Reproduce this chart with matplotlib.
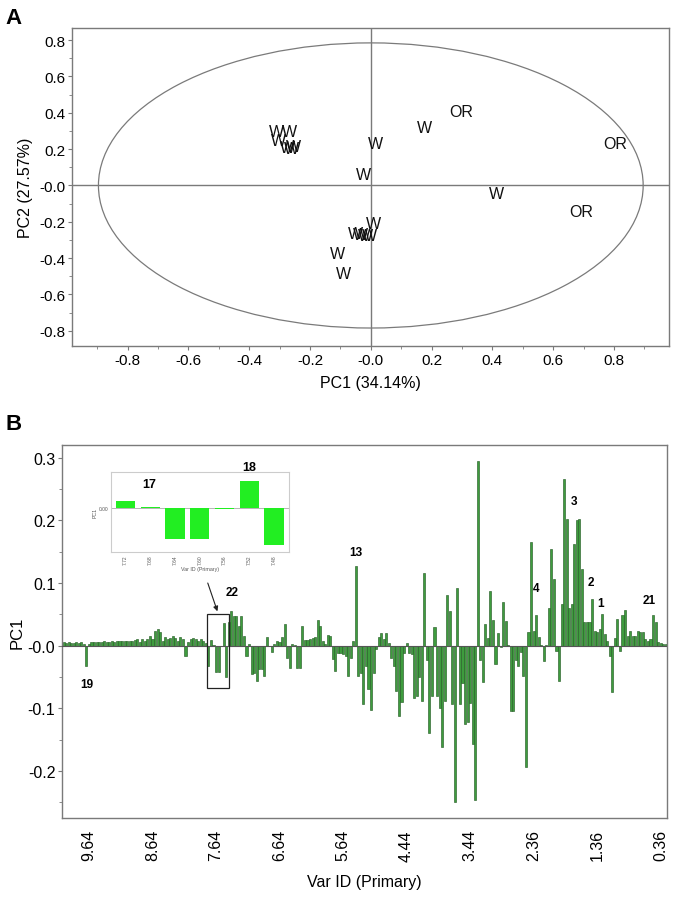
import matplotlib
matplotlib.use('Agg')
import matplotlib.pyplot as plt
from matplotlib.patches import Ellipse, Rectangle
from matplotlib.ticker import FixedLocator, FixedFormatter, MultipleLocator
import numpy as np

plt.rcParams['font.family'] = ['Liberation Sans', 'DejaVu Sans']

# ---------------- Panel A data: PCA scores ----------------
sample_labels = ['W'] * 17 + ['OR'] * 3
pc1_scores = [-0.310, -0.268, -0.305, -0.275, -0.262, -0.255,
              0.014, -0.025, 0.008, -0.050, -0.035, -0.018, -0.005,
              -0.109, -0.090, 0.178, 0.414,
              0.296, 0.803, 0.691]
pc2_scores = [0.295, 0.295, 0.245, 0.210, 0.205, 0.212,
              0.233, 0.059, -0.211, -0.266, -0.272, -0.275, -0.278,
              -0.376, -0.486, 0.321, -0.042,
              0.408, 0.233, -0.141]
pca_ticks = [-0.8, -0.6, -0.4, -0.2, 0.0, 0.2, 0.4, 0.6, 0.8]
pca_tick_labels = ['-0.8', '-0.6', '-0.4', '-0.2', '-0.0', '0.2', '0.4', '0.6', '0.8']

# ---------------- Panel B data: PC1 loadings ----------------
loadings = [
    0.005, 0.004, 0.005, 0.004, 0.004, 0.005, 0.004, 0.005, 0.003, -0.032,
    0.002, 0.005, 0.006, 0.005, 0.006, 0.006, 0.007, 0.006, 0.005, 0.007,
    0.006, 0.007, 0.007, 0.008, 0.007, 0.008, 0.008, 0.007, 0.009, 0.010,
    0.006, 0.010, 0.008, 0.011, 0.015, 0.011, 0.024, 0.027, 0.022, 0.008,
    0.014, 0.011, 0.012, 0.016, 0.012, 0.008, 0.013, 0.011, -0.017, 0.005,
    0.011, 0.012, 0.011, 0.007, 0.011, 0.007, 0.004, -0.033, 0.009, 0.001,
    -0.042, -0.042, -0.001, 0.036, -0.050, 0.037, 0.055, 0.047, 0.047, 0.031,
    0.047, 0.015, -0.017, 0.003, -0.046, -0.044, -0.057, -0.038, -0.037, -0.049,
    0.014, 0.000, -0.010, 0.002, 0.007, 0.006, 0.013, 0.035, -0.020, -0.036,
    0.002, 0.001, -0.035, -0.035, 0.031, 0.009, 0.009, 0.011, 0.012, 0.013,
    0.041, 0.031, 0.008, 0.003, 0.017, 0.015, -0.021, -0.040, -0.011, -0.011,
    -0.013, -0.016, -0.049, -0.019, 0.008, 0.127, -0.049, -0.043, -0.093, -0.032,
    -0.069, -0.102, -0.043, -0.005, 0.014, 0.020, 0.011, 0.020, 0.004, -0.019,
    -0.032, -0.072, -0.113, -0.090, -0.011, 0.004, -0.011, -0.013, -0.083, -0.080,
    -0.050, -0.088, 0.116, -0.023, -0.140, -0.080, 0.030, -0.080, -0.100, -0.161,
    -0.089, 0.080, 0.055, -0.093, -0.249, 0.092, -0.093, -0.060, -0.125, -0.122,
    -0.092, -0.157, -0.246, 0.295, -0.023, -0.058, 0.035, 0.012, 0.087, 0.041,
    -0.030, 0.020, -0.003, 0.069, 0.039, 0.001, -0.104, -0.104, -0.023, -0.032,
    -0.010, -0.048, -0.193, 0.021, 0.165, 0.023, 0.049, 0.013, 0.001, -0.024,
    0.001, 0.060, 0.154, 0.107, -0.008, -0.056, 0.066, 0.266, 0.202, 0.060,
    0.066, 0.162, 0.201, 0.202, 0.122, 0.038, 0.038, 0.038, 0.075, 0.024,
    0.022, 0.027, 0.050, 0.019, 0.008, -0.016, -0.074, 0.012, 0.043, -0.008,
    0.049, 0.056, 0.016, 0.023, 0.016, 0.015, 0.024, 0.022, 0.021, 0.011,
    0.008, 0.011, 0.049, 0.037, 0.005, 0.004, 0.003, 0.002,
]
var_tick_index = [10, 35, 60, 85, 110, 135, 160, 185, 210, 235]
var_tick_labels = ['9.64', '8.64', '7.64', '6.64', '5.64', '4.44', '3.44', '2.36', '1.36', '0.36']
loading_ticks = [-0.2, -0.1, 0.0, 0.1, 0.2, 0.3]
loading_tick_labels = ['-0.2', '-0.1', '-0.0', '0.1', '0.2', '0.3']

# peak annotations (label, bar index)
peak_labels = ['19', '22', '13', '4', '3', '2', '1', '21']
peak_index = [9, 66, 115, 186, 201, 207, 211, 231]

# inset (zoom of the boxed region)
inset_ppm = ['7.72', '7.68', '7.64', '7.60', '7.56', '7.52', '7.48']
inset_values = [0.009, 0.001, -0.042, -0.042, -0.001, 0.036, -0.050]

W, H = 675, 904
fig = plt.figure(figsize=(W / 100, H / 100), dpi=100)


def fx(px):
    return px / W


def fy(py):
    return 1 - py / H


grey = '#7a7a7a'

# ---------------- Panel A ----------------
axA = fig.add_axes([fx(72), fy(347), fx(669) - fx(72), fy(29) - fy(347)])
axA.set_xlim(-0.983, 0.981)
axA.set_ylim(-0.884, 0.867)
axA.axhline(0, color=grey, lw=1.0, zorder=1)
axA.axvline(0, color=grey, lw=1.0, zorder=1)
axA.add_patch(Ellipse((0, 0), 2 * 0.896, 2 * 0.785, fill=False, edgecolor=grey, lw=0.9))
for lab, x, y in zip(sample_labels, pc1_scores, pc2_scores):
    axA.text(x, y, lab, ha='center', va='center', fontsize=11.5, color='#111111', zorder=3)
axA.xaxis.set_major_locator(FixedLocator(pca_ticks))
axA.xaxis.set_major_formatter(FixedFormatter(pca_tick_labels))
axA.yaxis.set_major_locator(FixedLocator(pca_ticks))
axA.yaxis.set_major_formatter(FixedFormatter(pca_tick_labels))
axA.xaxis.set_minor_locator(MultipleLocator(0.1))
axA.yaxis.set_minor_locator(MultipleLocator(0.1))
axA.tick_params(which='major', length=3, width=0.8, color=grey, labelsize=11, pad=2)
axA.tick_params(which='minor', length=2, width=0.6, color=grey)
for s in axA.spines.values():
    s.set_color(grey)
    s.set_linewidth(1.0)
axA.set_xlabel('PC1 (34.14%)', fontsize=11.5, labelpad=6)
axA.set_ylabel('PC2 (27.57%)', fontsize=11.5, labelpad=4)

# ---------------- Panel B ----------------
axB = fig.add_axes([fx(62.3), fy(819), fx(667) - fx(62.3), fy(446) - fy(819)])
n = len(loadings)
xidx = np.arange(n)
axB.bar(xidx, loadings, width=0.82, color='#3e9c3e', edgecolor='#2a602a', linewidth=0.45, zorder=2)
axB.axhline(0, color='#555555', lw=0.8, zorder=3)
axB.set_xlim(-0.5, n - 0.5)
axB.set_ylim(-0.275, 0.32)
axB.xaxis.set_major_locator(FixedLocator(var_tick_index))
axB.xaxis.set_major_formatter(FixedFormatter(var_tick_labels))
axB.yaxis.set_major_locator(FixedLocator(loading_ticks))
axB.yaxis.set_major_formatter(FixedFormatter(loading_tick_labels))
axB.yaxis.set_minor_locator(MultipleLocator(0.05))
axB.tick_params(axis='x', which='major', length=0, labelsize=11.5, rotation=90, pad=8)
axB.tick_params(axis='y', which='major', length=3, width=0.8, color=grey, labelsize=11.5, pad=2)
axB.tick_params(axis='y', which='minor', length=2, width=0.6, color=grey)
for s in axB.spines.values():
    s.set_color(grey)
    s.set_linewidth(1.0)
axB.set_xlabel('Var ID (Primary)', fontsize=11.5, labelpad=10)
axB.set_ylabel('PC1', fontsize=12, labelpad=2)

peak_offsets = {'19': (0.3, -0.061), '22': (66.3, 0.085), '13': (115.0, 0.149), '4': (185.8, 0.092),
                '3': (200.8, 0.230), '2': (207.5, 0.102), '1': (211.3, 0.068), '21': (230.6, 0.073)}
for lab, idx in zip(peak_labels, peak_index):
    px, py = peak_offsets[lab]
    if lab == '19':
        px = idx + px
    axB.text(px, py, lab, ha='center', va='center', fontsize=8.5, fontweight='bold', zorder=5)

# box around zoomed region and arrow
axB.add_patch(Rectangle((56.6, -0.0675), 8.6, 0.118, fill=False, edgecolor='#222222', lw=0.9, zorder=4))
axB.annotate('', xy=(60.9, 0.0505), xytext=(56.4, 0.104),
             arrowprops=dict(arrowstyle='-|>', color='#222222', lw=0.8, mutation_scale=7), zorder=5)

# inset
axI = fig.add_axes([fx(111), fy(553), fx(289) - fx(111), fy(473) - fy(553)])
axI.bar(np.arange(len(inset_values)), inset_values, width=0.78, color='#22ee22', zorder=2)
axI.axhline(0, color='#aaaaaa', lw=0.6, zorder=1)
axI.set_xlim(-0.58, 6.6)
axI.set_ylim(-0.0587, 0.048)
axI.set_xticks(np.arange(len(inset_ppm)))
axI.set_xticklabels(inset_ppm, rotation=90, fontsize=3.5, color='#555555')
axI.set_yticks([0.0])
axI.set_yticklabels(['0.00'], fontsize=3.5, color='#555555')
axI.tick_params(length=0, pad=2)
axI.set_xlabel('Var ID (Primary)', fontsize=3.8, color='#555555', labelpad=1)
axI.set_ylabel('PC1', fontsize=3.8, color='#555555', labelpad=1)
for s in axI.spines.values():
    s.set_color('#cccccc')
    s.set_linewidth(0.8)

fig.text(fx(149), fy(485), '17', ha='center', va='center', fontsize=9, fontweight='bold')
fig.text(fx(249.3), fy(468.3), '18', ha='center', va='center', fontsize=9, fontweight='bold')

fig.text(fx(14), fy(18), 'A', ha='center', va='center', fontsize=16, fontweight='bold')
fig.text(fx(14), fy(425), 'B', ha='center', va='center', fontsize=16, fontweight='bold')

fig.savefig('out.png', dpi=100)
